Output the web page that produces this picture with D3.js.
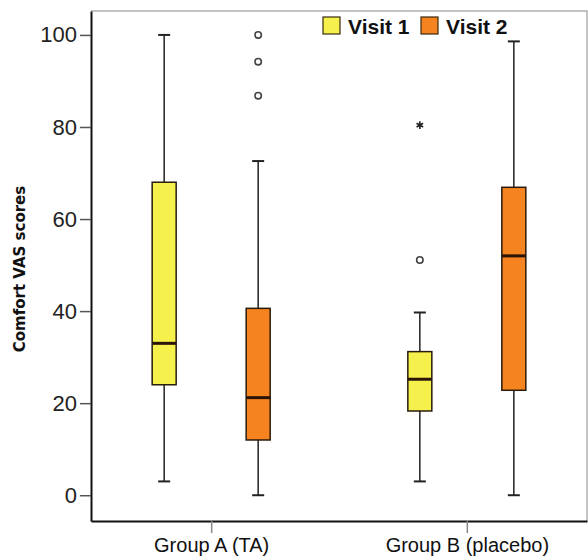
<!DOCTYPE html>
<html>
<head>
<meta charset="utf-8">
<script src="https://cdn.jsdelivr.net/npm/d3@7"></script>
<style>
  body { margin: 0; background: #fff; }
  svg { display: block; }
</style>
</head>
<body>
<svg width="588" height="560"></svg>
<script>
const svg = d3.select("svg");

// data
const groups = ["Group A (TA)", "Group B (placebo)"];
const visits = ["Visit 1", "Visit 2"];
const yTicks = [0, 20, 40, 60, 80, 100];
// [min, q1, median, q3, max] per group
const visit1Stats = [[3, 24, 33, 68, 100], [3, 18.3, 25.2, 31.2, 39.7]];
const visit2Stats = [[0, 12, 21.2, 40.6, 72.6], [0, 22.8, 52, 66.9, 98.6]];
const visit1Outliers = [[], [51.1]];
const visit2Outliers = [[100, 94.2, 86.8], []];
const visit1Extremes = [[], [80.4]];
const visit2Extremes = [[], []];

const colors = { "Visit 1": "#f6f04c", "Visit 2": "#f5831f" };

const plotLeft = 91, plotRight = 587, plotTop = 11, plotBottom = 521;

const y = d3.scaleLinear().domain([-5.6, 105.2]).range([plotBottom, plotTop]);
const x = d3.scalePoint().domain(groups).range([plotLeft, plotRight]).padding(0.47);
const xSub = d3.scaleBand().domain(visits).range([-94, 94]);
const boxW = 24, capW = 12;

// frame top/right
svg.append("path")
  .attr("d", `M${plotLeft},${plotTop}H${plotRight}V${plotBottom}`)
  .attr("fill", "none").attr("stroke", "#b0b0b0").attr("stroke-width", 1.5);

const series = [
  { visit: "Visit 1", stats: visit1Stats, out: visit1Outliers, ext: visit1Extremes },
  { visit: "Visit 2", stats: visit2Stats, out: visit2Outliers, ext: visit2Extremes }
];

const rows = [];
series.forEach(s => groups.forEach((g, i) => {
  rows.push({ group: g, visit: s.visit, stats: s.stats[i], out: s.out[i], ext: s.ext[i] });
}));

const box = svg.append("g").selectAll("g")
  .data(rows)
  .join("g")
  .attr("transform", d => `translate(${x(d.group) + xSub(d.visit) + xSub.bandwidth() / 2},0)`);

// whiskers
box.append("line")
  .attr("y1", d => y(d.stats[0])).attr("y2", d => y(d.stats[4]))
  .attr("stroke", "#222").attr("stroke-width", 1.5);
box.append("line")
  .attr("x1", -capW / 2).attr("x2", capW / 2)
  .attr("y1", d => y(d.stats[0])).attr("y2", d => y(d.stats[0]))
  .attr("stroke", "#222").attr("stroke-width", 2);
box.append("line")
  .attr("x1", -capW / 2).attr("x2", capW / 2)
  .attr("y1", d => y(d.stats[4])).attr("y2", d => y(d.stats[4]))
  .attr("stroke", "#222").attr("stroke-width", 2);

// boxes
box.append("rect")
  .attr("x", -boxW / 2).attr("width", boxW)
  .attr("y", d => y(d.stats[3]))
  .attr("height", d => y(d.stats[1]) - y(d.stats[3]))
  .attr("fill", d => colors[d.visit])
  .attr("stroke", "#2a1c0c").attr("stroke-width", 1.5);

// medians
box.append("line")
  .attr("x1", -boxW / 2).attr("x2", boxW / 2)
  .attr("y1", d => y(d.stats[2])).attr("y2", d => y(d.stats[2]))
  .attr("stroke", "#2a1408").attr("stroke-width", 3);

// outliers
box.selectAll("circle")
  .data(d => d.out)
  .join("circle")
  .attr("cy", v => y(v)).attr("r", 3.2)
  .attr("fill", "#fff").attr("stroke", "#444").attr("stroke-width", 1.6);

const starType = d3.symbolAsterisk || d3.symbolCross;
box.selectAll("path.ext")
  .data(d => d.ext)
  .join("path")
  .attr("class", "ext")
  .attr("transform", v => `translate(0,${y(v)})`)
  .attr("d", d3.symbol(starType, 40))
  .attr("fill", "#222").attr("stroke", "#222").attr("stroke-width", 1.6);

// y axis
const yAxis = svg.append("g")
  .attr("transform", `translate(${plotLeft},0)`)
  .call(d3.axisLeft(y).tickValues(yTicks).tickSize(11).tickPadding(3).tickSizeOuter(0));
yAxis.select(".domain").attr("stroke", "#111").attr("stroke-width", 2);
yAxis.selectAll(".tick line").attr("stroke", "#555").attr("stroke-width", 1.5);
yAxis.selectAll(".tick text")
  .attr("font-family", "Liberation Sans, Arial, sans-serif")
  .attr("font-size", 22).attr("fill", "#222");

// x axis
const xAxis = svg.append("g")
  .attr("transform", `translate(0,${plotBottom})`)
  .call(d3.axisBottom(x).tickSize(12).tickPadding(5).tickSizeOuter(0));
xAxis.select(".domain").attr("stroke", "#111").attr("stroke-width", 2);
xAxis.selectAll(".tick line").attr("stroke", "#888").attr("stroke-width", 1.5);
xAxis.selectAll(".tick text")
  .attr("font-family", "Liberation Sans, Arial, sans-serif")
  .attr("font-size", 20).attr("fill", "#111");

// y label
svg.append("text")
  .attr("transform", "translate(25,269) rotate(-90)")
  .attr("text-anchor", "middle")
  .attr("font-family", "DejaVu Sans, sans-serif")
  .attr("font-weight", "bold")
  .attr("font-size", 15)
  .attr("fill", "#111")
  .text("Comfort VAS scores");

// legend
const legend = svg.append("g").selectAll("g")
  .data(visits)
  .join("g")
  .attr("transform", (d, i) => `translate(${323 + i * 98},17)`);
legend.append("rect")
  .attr("width", 17).attr("height", 17)
  .attr("fill", d => colors[d])
  .attr("stroke", "#3a2a10").attr("stroke-width", 1.2);
legend.append("text")
  .attr("x", 25).attr("y", 17)
  .attr("font-family", "Liberation Sans, Arial, sans-serif")
  .attr("font-weight", "bold")
  .attr("font-size", 21)
  .attr("fill", "#111")
  .text(d => d);
</script>
</body>
</html>
